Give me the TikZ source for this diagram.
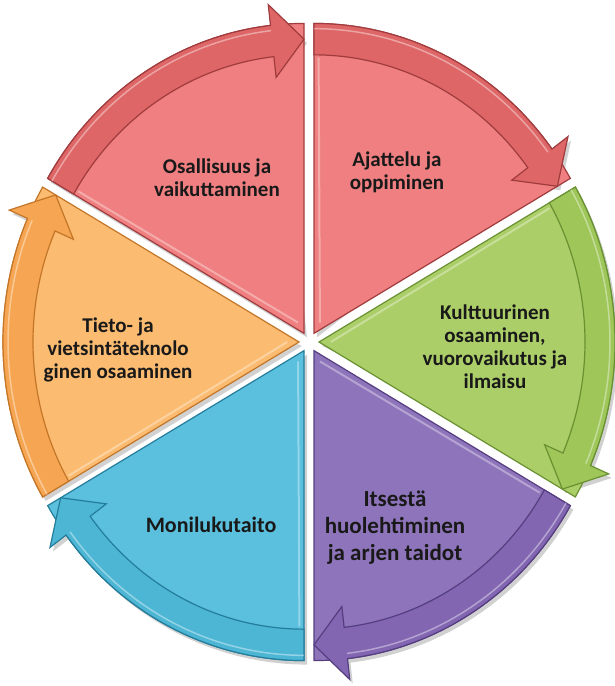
\documentclass[tikz,border=0pt]{standalone}
\usepackage{fontspec}
\setmainfont{Carlito}
\definecolor{redF}{RGB}{239,127,128}
\definecolor{redB}{RGB}{222,102,102}
\definecolor{redE}{RGB}{160,60,62}
\definecolor{grnF}{RGB}{172,206,104}
\definecolor{grnB}{RGB}{158,198,88}
\definecolor{grnE}{RGB}{105,145,50}
\definecolor{purF}{RGB}{142,116,186}
\definecolor{purB}{RGB}{130,102,178}
\definecolor{purE}{RGB}{85,62,128}
\definecolor{bluF}{RGB}{90,192,222}
\definecolor{bluB}{RGB}{76,182,212}
\definecolor{bluE}{RGB}{36,125,155}
\definecolor{orgF}{RGB}{251,187,112}
\definecolor{orgB}{RGB}{246,166,82}
\definecolor{orgE}{RGB}{196,118,40}
\def\R{296}
\pgfmathsetmacro\Ro{\R+20}
\pgfmathsetmacro\Rm{\R-15}
\pgfmathsetmacro\Ri{\R-30}
\pgfmathsetmacro\Rh{\R-50}
\newcommand\mysecshadow[2]{%
 \pgfmathsetmacro\m{(#1+#2)/2}%
 \pgfmathsetmacro\hb{#2+6.5}%
 \begin{scope}[shift={(C)}, shift={(\m:10)}, shift={(3,-4)}, yscale=1.047]
  \fill[black, opacity=0.18] (0,0) -- (#1:\R pt) arc[start angle=#1, end angle=\hb, radius=\R pt] -- (\hb:\Ro pt) -- (#2:\Rm pt) -- (\hb:\Rh pt) -- cycle;
 \end{scope}}
\newcommand\mysector[5]{%
 \pgfmathsetmacro\m{(#1+#2)/2}%
 \pgfmathsetmacro\hb{#2+6.5}%
 \begin{scope}[shift={(C)}, shift={(\m:10)}, yscale=1.047]
  \filldraw[fill=#3, draw=#5, line width=1.2pt, line join=miter] (0,0) -- (#1:\R pt) arc[start angle=#1, end angle=#2, radius=\R pt] -- cycle;
  \draw[white, opacity=0.35, line width=2pt] ($(0,0)!0.04!(\m:\R pt)$) -- ($(#1:\Ri pt)!0.02!(#2:\Ri pt)$);
  \filldraw[fill=#4, draw=#5, line width=1.2pt, line join=miter] (#1:\R pt) arc[start angle=#1, end angle=\hb, radius=\R pt] -- (\hb:\Ro pt) -- (#2:\Rm pt) -- (\hb:\Rh pt) -- (\hb:\Ri pt) arc[start angle=\hb, end angle=#1, radius=\Ri pt] -- cycle;
  \draw[white, opacity=0.4, line width=1.5pt] (#1:\R-5 pt) arc[start angle=#1, end angle=\hb, radius=\R-5 pt];
 \end{scope}}
\usetikzlibrary{calc}
\tikzset{lbl/.style={font=\fontsize{21}{23}\selectfont\bfseries, align=center, text=black!90}}
\begin{document}
\begin{tikzpicture}[x=1pt,y=1pt]
\useasboundingbox (0,0) rectangle (614,-686);
\coordinate (C) at (309,-342);
\mysecshadow{150}{90}
\mysecshadow{90}{30}
\mysecshadow{30}{-30}
\mysecshadow{-30}{-90}
\mysecshadow{-90}{-150}
\mysecshadow{-150}{-210}
\mysector{150}{90}{redF}{redB}{redE}
\mysector{90}{30}{redF}{redB}{redE}
\mysector{30}{-30}{grnF}{grnB}{grnE}
\mysector{-30}{-90}{purF}{purB}{purE}
\mysector{-90}{-150}{bluF}{bluB}{bluE}
\mysector{-150}{-210}{orgF}{orgB}{orgE}
\node[lbl] (t1) at (217,-178) {Osallisuus ja\\vaikuttaminen};
\node[lbl] (t2) at (397,-172) {Ajattelu ja\\oppiminen};
\node[lbl] (t3) at (495,-347) {Kulttuurinen\\osaaminen,\\vuorovaikutus ja\\ilmaisu};
\node[lbl] (t4) at (395,-528) [font=\fontsize{23}{27}\selectfont\bfseries] {Itsestä\\huolehtiminen\\ja arjen taidot};
\node[lbl] (t5) at (211,-525) [font=\fontsize{22}{24}\selectfont\bfseries] {Monilukutaito};
\node[lbl] (t6) at (118,-350) {Tieto- ja\\vietsintäteknolo\\ginen osaaminen};
\end{tikzpicture}
\end{document}
